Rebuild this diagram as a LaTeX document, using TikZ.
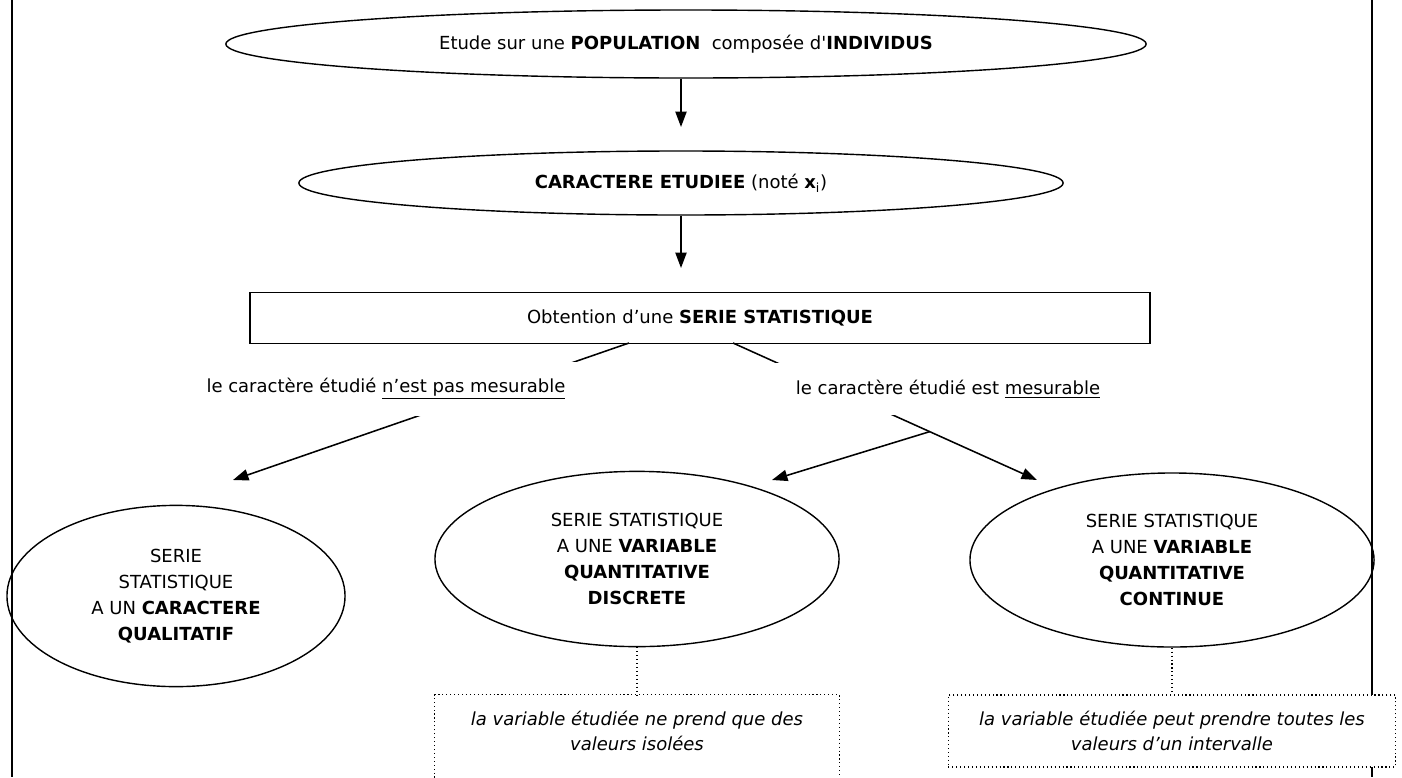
\documentclass[tikz,border=0pt]{standalone}
\usepackage{fontspec}
\setmainfont{DejaVu Sans}
\usetikzlibrary{shapes.geometric,arrows.meta,calc}

\tikzset{
    bulle/.style={ellipse, draw, line width=1pt, inner sep=0pt, align=center},
    cadre/.style={rectangle, draw, line width=1.2pt, inner sep=0pt},
    branche/.style={fill=white, inner xsep=20pt, inner ysep=12pt},
    remarque/.style={rectangle, inner sep=0pt, align=center, font=\fontsize{12.8}{17.8}\selectfont\itshape},
    fleche/.style={line width=1.1pt, -{Triangle[length=11pt,width=8pt]}},
    tige/.style={dotted, line width=0.8pt}
}

\begin{document}
\begin{tikzpicture}[x=0.025cm, y=-0.025cm, font=\fontsize{12.8}{18.5}\selectfont]
    \useasboundingbox (0,0) rectangle (1402,777);
    % bords de la page
    \draw[line width=1.5pt] (12,0) -- (12,777);
    \draw[line width=1.5pt] (1372,0) -- (1372,777);

    % haut du schema
    \node[bulle, minimum width=23cm, minimum height=1.7cm] (pop) at (686,44)
        {Etude sur une \textbf{POPULATION}\ \ composée d\textquotesingle\textbf{INDIVIDUS}};
    \node[bulle, minimum width=19.1cm, minimum height=1.6cm] (car) at (681,183)
        {\textbf{CARACTERE ETUDIEE} (noté \textbf{x}\textsubscript{i})};
    \node[cadre, minimum width=22.5cm, minimum height=1.28cm] (obt) at (700,318)
        {Obtention d'une \textbf{SERIE STATISTIQUE}};
    \coordinate (t1) at (681,127);
    \coordinate (t2) at (681,268);
    \draw[fleche] (pop.south -| t1) -- (t1);
    \draw[fleche] (car) -- (t2);

    % les trois series
    \node[bulle, minimum width=8.45cm, minimum height=4.53cm] (qual) at (176,596)
        {SERIE\\STATISTIQUE\\A UN \textbf{CARACTERE}\\\textbf{QUALITATIF}};
    \node[bulle, minimum width=10.1cm, minimum height=4.38cm] (disc) at (637,559)
        {SERIE STATISTIQUE\\A UNE \textbf{VARIABLE}\\\textbf{QUANTITATIVE}\\\textbf{DISCRETE}};
    \node[bulle, minimum width=10.1cm, minimum height=4.35cm] (cont) at (1172,560)
        {SERIE STATISTIQUE\\A UNE \textbf{VARIABLE}\\\textbf{QUANTITATIVE}\\\textbf{CONTINUE}};

    \coordinate (sL) at (629,343);
    \coordinate (sR) at (733,343);
    \coordinate (tQ) at (233,480);
    \coordinate (tC) at (1037,480);
    \coordinate (tD) at (772,480);
    \coordinate (fourche) at ($(sR)!0.647!(tC)$);
    \draw[fleche] (sL) -- (tQ);
    \draw[fleche] (sR) -- (tC);
    \draw[fleche] (fourche) -- (tD);

    \node[branche] (nonmes) at (386,389) {le caractère étudié \underline{n'est pas mesurable}};
    \node[branche] (mes) at (948,389) {le caractère étudié est \underline{mesurable}};

    % remarques
    \node[remarque, minimum width=10.1cm, minimum height=1.8cm] (rq1) at (637,731)
        {la variable étudiée ne prend que des\\valeurs isolées};
    \draw[tige] ($(rq1.south west)+(0,30)$) -- (rq1.north west) -- (rq1.north east) -- ($(rq1.south east)+(0,30)$);
    \node[remarque, draw, dotted, line width=0.8pt, fill=white, minimum width=11.18cm, minimum height=1.8cm] (rq2) at (1172,731)
        {la variable étudiée peut prendre toutes les\\valeurs d'un intervalle};
    \draw[tige] (disc) -- (rq1);
    \draw[tige] (cont) -- (rq2);
\end{tikzpicture}
\end{document}
